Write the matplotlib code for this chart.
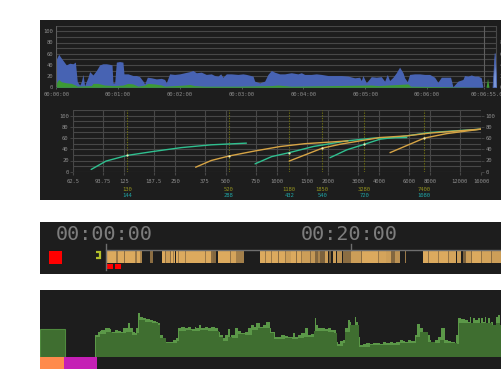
import matplotlib
matplotlib.use("Agg")
import matplotlib.pyplot as plt
import numpy as np
from matplotlib.patches import Rectangle
from matplotlib.colors import to_rgb

plt.rcParams['font.family'] = ['DejaVu Sans Mono']

# ---------------- data ----------------
# level meter over time (seconds)
level_t = [0, 2.3, 4.9, 9.7, 13.0, 16.2, 18.5, 20.4, 22.7, 24.3, 25.9, 27.5, 30.8, 32.4, 35.6,
           38.9, 42.1, 45.3, 48.6, 51.8, 54.1, 55.0, 56.7, 58.3, 61.5, 64.7, 65.7, 69.6, 74.5,
           77.7, 80.9, 84.2, 85.8, 88.4, 92.3, 97.1, 102.0, 105.2, 106.8, 110.0, 114.9, 119.8,
           124.6, 129.5, 132.7, 135.9, 140.8, 145.6, 150.5, 153.7, 157.0, 159.6, 161.8, 165.1,
           169.9, 176.4, 181.2, 184.5, 191.0, 192.6, 197.4, 202.3, 205.5, 208.8, 212.0, 216.8,
           221.7, 228.2, 234.6, 237.9, 241.1, 247.6, 252.4, 257.3, 263.8, 270.2, 276.7, 283.2,
           289.6, 294.5, 296.1, 297.7, 301.0, 305.8, 310.7, 315.5, 318.8, 321.4, 323.6, 326.9,
           330.1, 333.3, 336.6, 338.2, 340.8, 343.0, 347.9, 352.8, 357.6, 362.5, 367.3, 370.5,
           373.8, 378.6, 382.8, 385.1, 390.0, 394.8, 396.4, 399.7, 402.9, 406.2, 409.4, 412.6,
           414.2]
level_v = [50, 59, 52, 40, 43, 42, 45, 10, 4, 10, 23, 3, 18, 28, 22,
           30, 40, 42, 42, 41, 40, 8, 8, 45, 46, 45, 24, 24, 21,
           21, 19, 11, 6, 18, 17, 15, 16, 14, 8, 24, 23, 24,
           26, 28, 30, 26, 27, 23, 24, 21, 20, 24, 18, 24,
           24, 23, 24, 23, 20, 11, 8, 11, 23, 30, 27, 24,
           24, 26, 24, 26, 23, 23, 24, 23, 21, 21, 21, 20,
           17, 18, 12, 21, 8, 19, 18, 19, 11, 23, 12, 18,
           26, 36, 26, 17, 10, 23, 24, 24, 23, 23, 18, 9,
           18, 18, 18, 1, 11, 14, 21, 20, 22, 20, 20, 17,
           0]
low_t = [0, 0.7, 2.3, 4.9, 9.7, 14.6, 18.5, 20.4, 34.0, 35.6, 40.5, 46.9, 56.7, 64.7, 69.6,
         74.5, 79.3, 85.8, 89.0, 95.5, 102.0, 105.2, 124.6, 129.5, 134.3, 144.0, 176.4, 208.8,
         215.2, 228.2, 305.8, 312.3, 341.4, 344.0, 414.2]
low_v = [6, 10, 14, 10, 8, 7, 4, 2, 3, 7, 7, 4, 3, 4, 7,
         6, 2, 4, 7, 6, 4, 2, 4, 5, 3, 2, 2, 3,
         4, 2, 4, 3, 6, 2, 0]
burst_t = [417.2, 418.7, 420.1]
burst_v = [0, 16, 0]
peak_t = [423.6, 425.6, 427.4]
peak_v = [0, 61, 0]
time_ticks = [0, 60, 120, 180, 240, 300, 360]
time_labels = ['00:00:00', '00:01:00', '00:02:00', '00:03:00', '00:04:00', '00:05:00', '00:06:00']
end_time = 415
end_label = '00:06:55.000'

# response curves (Hz, %)
freq_ticks = [62.5, 93.75, 125, 187.5, 250, 375, 500, 750, 1000, 1500, 2000, 3000, 4000,
              6000, 8000, 12000, 16000]
freq_labels = ['62.5', '93.75', '125', '187.5', '250', '375', '500', '750', '1000', '1500',
               '2000', '3000', '4000', '6000', '8000', '12000', '16000']
teal_curves = [
    ([80, 98, 130, 185, 272, 409, 660], [4, 19, 29, 36, 43, 48, 51]),
    ([742, 931, 1180, 1640, 2055, 2580, 3700, 5830], [14, 27, 34, 45, 50, 55, 60, 61]),
    ([2055, 2580, 3280, 4055, 5830, 8000, 16000], [25, 39, 49, 58, 64, 70, 76]),
]
orange_curves = [
    ([331, 409, 520, 740, 1045, 1460, 2625], [8, 20, 28, 37, 45, 50, 55]),
    ([1180, 1850, 2355, 3230, 4055, 5830, 8000, 16000], [19, 42, 49, 56, 61, 64, 69, 76]),
    ([4646, 7400, 10040, 16000], [34, 60, 68, 76]),
]
marker_freqs = [130, 520, 1180, 1850, 3280, 7400]
marker_top = ['130', '520', '1180', '1850', '3280', '7400']
marker_bottom = ['144', '288', '432', '540', '720', '1080']

# timeline segments (minutes)
seg_start = [0.05, 0.81, 0.99, 1.49, 1.60, 2.36, 2.56, 2.78, 3.64,
             4.60, 4.82, 4.92, 5.22, 5.30, 5.49, 5.57,
             5.71, 5.90, 5.98, 6.44, 6.52, 8.07, 8.21, 8.62, 8.76,
             9.17, 10.12, 10.26, 10.67,
             12.62, 12.97, 13.05, 13.51, 13.59, 14.06, 14.14, 14.60, 14.68,
             15.15, 15.56, 15.64, 15.96, 16.05, 16.64, 16.72,
             17.06, 17.35, 17.50, 17.93, 18.20, 18.56, 18.91, 19.37,
             20.05, 20.86, 20.95, 21.69, 22.24, 22.32, 22.91, 23.32, 23.59, 24.40,
             25.90, 26.31, 26.39, 27.13, 27.21, 27.94, 28.02, 28.70, 29.17,
             29.44, 29.85, 29.93, 30.66, 30.74, 31.48, 31.56]
seg_end = [0.81, 0.99, 1.49, 1.60, 2.36, 2.56, 2.78, 2.96, 3.86,
           4.82, 4.92, 5.22, 5.30, 5.49, 5.57, 5.68,
           5.90, 5.98, 6.44, 6.52, 8.07, 8.21, 8.62, 8.76, 9.03,
           10.12, 10.26, 10.67, 11.29,
           12.97, 13.05, 13.51, 13.59, 14.06, 14.14, 14.60, 14.68, 15.15,
           15.56, 15.64, 15.96, 16.05, 16.64, 16.72, 17.06,
           17.35, 17.50, 17.88, 18.15, 18.42, 18.83, 19.29, 20.05,
           20.86, 20.95, 21.69, 22.24, 22.32, 22.91, 23.32, 23.59, 24.00, 24.54,
           26.31, 26.39, 27.13, 27.21, 27.94, 28.02, 28.62, 28.98, 29.38,
           29.85, 29.93, 30.66, 30.74, 31.48, 31.56, 32.40]
seg_level = [1, 0.6, 1, 0.5, 1, 0.6, 1, 0.7, 0.5,
             1, 0.5, 0.9, 0.5, 1, 0.6, 1,
             1, 0.6, 1, 0.6, 1, 0.6, 1, 0.5, 0.45,
             1, 0.55, 0.95, 0.65,
             1, 0.6, 1, 0.6, 1, 0.5, 1, 0.6, 0.9,
             1, 0.5, 1, 0.6, 0.9, 0.5, 0.85,
             0.45, 0.7, 0.4, 0.9, 0.4, 0.9, 0.8, 0.5,
             0.9, 0.5, 1, 1, 0.6, 0.95, 0.9, 0.45, 0.8, 0.6,
             1, 0.55, 1, 0.6, 1, 0.55, 0.95, 0.9, 0.4,
             0.9, 0.5, 1, 0.55, 0.95, 0.5, 0.9]
clock_ticks = [0, 20]
clock_labels = ['00:00:00', '00:20:00']

# activity track
act_x = [54.0, 54.7, 56.3, 58.0, 59.7, 61.3, 64.7, 68.0, 69.7, 71.3, 74.7, 78.0, 81.3, 83.0,
         85.3, 88.0, 89.7, 93.0, 94.7, 96.3, 98.0, 99.7, 103.0, 106.3, 109.7, 113.0, 116.3,
         118.0, 119.7, 123.0, 126.3, 129.7, 133.0, 136.3, 138.0, 141.3, 144.7, 148.0, 151.3,
         154.7, 156.3, 158.7, 161.3, 164.7, 168.0, 171.3, 174.7, 178.0, 179.7, 183.0, 184.7,
         188.0, 189.7, 191.3, 194.7, 198.0, 201.3, 204.7, 208.0, 211.3, 214.0, 216.3, 219.7,
         223.0, 226.3, 229.7, 231.3, 234.7, 238.0, 241.3, 244.7, 248.0, 251.3, 253.0, 254.7,
         258.0, 261.3, 264.7, 268.0, 271.3, 274.7, 276.3, 278.0, 281.3, 284.7, 288.0, 291.3,
         294.0, 296.3, 298.0, 299.7, 303.0, 304.7, 308.0, 309.7, 311.3, 313.0, 314.7, 316.3,
         318.0, 319.7, 323.0, 326.3, 329.7, 333.0, 336.3, 339.7, 343.0, 346.3, 349.7, 353.0,
         356.3, 359.7, 363.0, 364.7, 368.0, 371.3, 374.7, 377.3, 379.7, 383.0, 386.3, 389.7,
         391.3, 394.7, 398.0, 401.3, 404.7, 408.0, 411.3, 414.7, 416.3, 418.0, 421.3, 424.7,
         428.0, 429.7, 431.3, 433.0, 434.7, 438.0, 439.7, 441.3, 443.0, 444.7, 446.3, 448.0,
         449.7, 451.3, 453.0, 456.3, 458.0, 459.7, 461.3, 462.0]
act_hi = [0, 65, 65, 75, 77, 80, 85, 87, 83, 75, 80, 77, 75, 85,
          87, 100, 85, 75, 70, 85, 130, 120, 115, 112, 110, 107, 105,
          100, 65, 55, 45, 43, 50, 55, 85, 88, 87, 90, 83,
          88, 85, 95, 85, 88, 85, 90, 85, 75, 65, 55, 65,
          83, 55, 65, 87, 77, 70, 75, 85, 95, 90, 100, 90,
          95, 105, 85, 75, 60, 60, 65, 62, 58, 60, 70, 60,
          65, 70, 85, 65, 67, 115, 95, 85, 85, 83, 85, 80,
          80, 45, 37, 47, 50, 85, 110, 105, 90, 85, 120, 105,
          60, 35, 37, 40, 39, 41, 42, 39, 45, 40, 43, 40,
          45, 50, 47, 45, 50, 47, 65, 97, 85, 75, 65, 50,
          45, 50, 60, 85, 50, 47, 45, 40, 65, 115, 113, 110,
          105, 120, 90, 117, 110, 115, 85, 117, 105, 120, 90, 115,
          85, 105, 75, 120, 125, 65, 130, 130]
act_lo_x = [54, 56, 60, 66, 72, 80, 86, 92, 97, 99, 105, 112, 118, 120, 126, 132, 137, 139,
            146, 152, 160, 168, 175, 179, 183, 188, 192, 198, 205, 212, 218, 225, 230, 234,
            245, 252, 258, 264, 268, 274, 280, 288, 294, 297, 303, 305, 310, 316, 319, 330,
            345, 360, 372, 376, 380, 388, 395, 400, 404, 410, 417, 419, 425, 432, 440, 446,
            452, 456, 460, 462]
act_lo = [0, 60, 68, 75, 70, 70, 75, 65, 72, 110, 105, 100, 95, 55, 40, 40, 48, 78,
          80, 78, 80, 78, 78, 60, 48, 60, 55, 68, 65, 80, 85, 85, 70, 52,
          55, 52, 55, 60, 58, 78, 78, 75, 70, 32, 40, 75, 95, 95, 30, 35,
          36, 40, 42, 60, 75, 45, 42, 50, 42, 40, 38, 100, 100, 100, 100, 100,
          95, 100, 95, 95]
intro_height = 83
intro_span = (0, 25.5)
track_a = (0, 24.5)
track_b = (24.5, 57.5)

# ---------------- style ----------------
PANEL = '#1d1d1d'
GRID = '#474747'
AXIS = '#5e5e5e'
TXT = '#8c8c8c'
BLUE = '#4763b3'
GREEN = '#3d9a35'
PEAK = '#7b97d6'
TEAL = '#2fbf8f'
ORANGE = '#d6a445'
OLIVE = '#6b6b12'
OLIVE_TXT = '#93931f'
TEAL_TXT = '#1fa3a3'
FS = 4.0

W, H = 502, 369
fig = plt.figure(figsize=(W / 100, H / 100), dpi=100, facecolor='white')


def px_axes(x0, y0, x1, y1):
    ax = fig.add_axes([x0 / W, 1 - y1 / H, (x1 - x0) / W, (y1 - y0) / H])
    ax.set_facecolor('none')
    return ax


def panel(x0, y0, x1, y1):
    fig.add_artist(Rectangle((x0 / W, 1 - y1 / H), (x1 - x0) / W, (y1 - y0) / H,
                             transform=fig.transFigure, facecolor=PANEL,
                             edgecolor='none', zorder=-5))


panel(40, 20, 502, 200)
panel(40, 222, 502, 274)
panel(40, 290, 502, 369)

# ---- level over time ----
ax1 = px_axes(56.3, 25.7, 496.5, 87.3)
ax1.set_xlim(0, 427.4)
ax1.set_ylim(0, 110)
for y in range(0, 111, 10):
    ax1.axhline(y, color=GRID, lw=0.8, zorder=0)
ax1.fill_between(level_t, level_v, color=BLUE, lw=0, zorder=2)
ax1.fill_between(low_t, low_v, color=GREEN, lw=0, zorder=3)
ax1.fill_between(burst_t, burst_v, color=GREEN, lw=0, zorder=3)
ax1.fill_between(peak_t, peak_v, color=PEAK, edgecolor=BLUE, lw=0.6, zorder=3)
ax1.axvline(0, color=AXIS, lw=0.8, zorder=4)
ax1.axvline(end_time, color=AXIS, lw=0.8, zorder=4)
for s in ax1.spines.values():
    s.set_visible(False)
ax1.spines['right'].set_visible(True)
ax1.spines['right'].set_color(GRID)
ax1.set_yticks(range(0, 101, 20))
ax1.tick_params(axis='y', length=0, labelsize=FS, colors=TXT, pad=2.4,
                left=True, right=True, labelleft=True, labelright=True)
ax1.set_xticks(time_ticks + [end_time])
ax1.set_xticklabels(time_labels + [''])
ax1.tick_params(axis='x', length=1.5, width=0.6, color=AXIS, labelsize=FS,
                labelcolor=TXT, pad=2.2)
ax1.text(402.3, -0.12, end_label, transform=ax1.get_xaxis_transform(),
         ha='left', va='center', fontsize=FS, color=TXT, clip_on=False)

# ---- response curves ----
ax2 = px_axes(73, 110.1, 481, 171.7)
ax2.set_xscale('log', base=2)
ax2.set_xlim(62.5, 16000)
ax2.set_ylim(0, 110)
for y in range(0, 111, 10):
    ax2.axhline(y, color=GRID, lw=0.8, zorder=0)
for f in freq_ticks:
    ax2.axvline(f, color=GRID, lw=0.8, zorder=0)
for f in marker_freqs:
    ax2.axvline(f, color=OLIVE, lw=0.8, ls=(0, (1.2, 1.2)), zorder=1)
for fx, vy in teal_curves:
    ax2.plot(fx, vy, color=TEAL, lw=1.0, zorder=3, solid_capstyle='round')
for fx, vy in orange_curves:
    ax2.plot(fx, vy, color=ORANGE, lw=1.0, zorder=3, solid_capstyle='round')
for fx, vy in teal_curves + orange_curves:
    for f in marker_freqs:
        if f in fx:
            if (f == 1180 and (fx, vy) in orange_curves):
                continue
            ax2.plot([f], [vy[fx.index(f)]], 'o', ms=1.6, mfc='#f0f0c0', mec='none', zorder=4)
for s in ax2.spines.values():
    s.set_visible(False)
ax2.set_xticks(freq_ticks)
ax2.set_xticklabels(freq_labels)
ax2.minorticks_off()
ax2.tick_params(axis='x', length=2.5, width=0.8, color=GRID, labelsize=FS,
                labelcolor=TXT, pad=2.6)
ax2.set_yticks(range(0, 101, 20))
ax2.tick_params(axis='y', length=2, width=0.6, color=GRID, labelsize=FS, labelcolor=TXT,
                pad=1.2, left=True, right=True, labelleft=True, labelright=True)
xt = ax2.get_xaxis_transform()
for f, a, b in zip(marker_freqs, marker_top, marker_bottom):
    ax2.text(f, -0.286, a, transform=xt, ha='center', va='center', fontsize=FS,
             color=OLIVE_TXT, clip_on=False)
    ax2.text(f, -0.394, b, transform=xt, ha='center', va='center', fontsize=FS,
             color=TEAL_TXT, clip_on=False)

# ---- clock timeline ----
ax3 = px_axes(40, 222, 502, 274)
ax3.set_xlim(-5.36, 32.35)
ax3.set_ylim(274, 222)
ax3.axis('off')
dark = np.array(to_rgb('#3a3026'))
bright = np.array(to_rgb('#dcaa5e'))
for s0, s1, lv in zip(seg_start, seg_end, seg_level):
    c = dark + lv * (bright - dark)
    ax3.add_patch(Rectangle((s0, 250.7), s1 - s0, 12.6, facecolor=c, edgecolor='none', zorder=2))
ax3.plot([0, 32.35], [250, 250], color='#6e6e6e', lw=1.0, zorder=3)
ax3.plot([0, 0], [244, 270], color='#6e6e6e', lw=1.0, zorder=3)
ax3.plot([20, 20], [243.5, 250], color='#6e6e6e', lw=1.0, zorder=3)
for t, lab in zip(clock_ticks, clock_labels):
    ax3.text(t - 0.08, 234, lab, ha='center', va='center', fontsize=14.5, color='#7d7d7d')
ax3.add_patch(Rectangle((-4.59, 250.7), 1.01, 13.3, facecolor='#ff0000', edgecolor='none'))
ax3.add_patch(Rectangle((0.13, 263.5), 0.47, 5.8, facecolor='#ff0000', edgecolor='none'))
ax3.add_patch(Rectangle((0.75, 263.5), 0.48, 5.8, facecolor='#ff0000', edgecolor='none'))
ax3.plot([-0.75, -0.43, -0.43, -0.75], [251.8, 251.8, 258.3, 258.3], color='#b3c02a',
         lw=1.6, solid_joinstyle='miter', solid_capstyle='butt')

# ---- activity track ----
ax4 = px_axes(40, 290, 502, 356.7)
ax4.set_xlim(0, 462)
ax4.set_ylim(0, 200)
ax4.axis('off')
ax4.fill_between(act_x, act_hi, step='post', color='#5b9848', lw=0)
ax4.fill_between(act_lo_x, act_lo, step='post', color='#3f6e30', lw=0)
ax4.add_patch(Rectangle((intro_span[0], 0), intro_span[1] - intro_span[0], intro_height,
                        facecolor='#3f6e30', edgecolor='#4f8a3e', lw=0.8))

ax5 = px_axes(40, 356.7, 502, 369)
ax5.set_xlim(0, 462)
ax5.set_ylim(0, 1)
ax5.axis('off')
ax5.add_patch(Rectangle((track_a[0], 0), track_a[1] - track_a[0], 1, facecolor='#ff8a4c', edgecolor='none'))
ax5.add_patch(Rectangle((track_b[0], 0), track_b[1] - track_b[0], 1, facecolor='#c51fb5', edgecolor='none'))

fig.savefig('out.png', dpi=100, facecolor='white')
